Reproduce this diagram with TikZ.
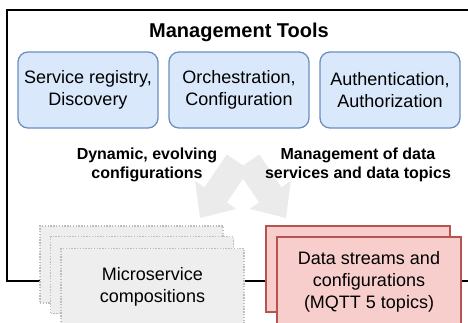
\documentclass[tikz,border=0pt]{standalone}
\usepackage{fontspec}
\setmainfont{Liberation Sans}
\usetikzlibrary{calc, arrows.meta}

\definecolor{ToolFill}{HTML}{DAE8FC}
\definecolor{ToolLine}{HTML}{6C8EBF}
\definecolor{TopicFill}{HTML}{F8CECC}
\definecolor{TopicLine}{HTML}{B85450}
\definecolor{ServiceFill}{HTML}{EEEEEE}
\definecolor{ServiceLine}{HTML}{BDBDBD}
\definecolor{FlowFill}{HTML}{EBEBEB}

\tikzset{
    tool box/.style={
        draw=ToolLine, fill=ToolFill, line width=1.3pt, rounded corners=10pt,
        minimum width=140pt, minimum height=76pt, align=center,
        font=\fontsize{18}{22}\selectfont
    },
    service box/.style={
        draw=ServiceLine, fill=ServiceFill, line width=1.3pt,
        dash pattern=on 1.4pt off 1.4pt,
        minimum width=183pt, minimum height=77pt, align=center,
        font=\fontsize{18}{22}\selectfont
    },
    topic box/.style={
        draw=TopicLine, fill=TopicFill, line width=1.3pt,
        minimum width=184pt, minimum height=86pt, align=center,
        font=\fontsize{18}{22}\selectfont
    },
    flow label/.style={align=center, font=\fontsize{16}{19}\selectfont\bfseries},
    flow arrow/.style={
        draw=FlowFill, line width=27pt,
        -{Triangle[width=50pt, length=28pt, line width=0pt]}
    }
}

\begin{document}
\begin{tikzpicture}[x=1pt, y=-1pt]

    \useasboundingbox (0,0) rectangle (468,322);
    \clip (0,0) rectangle (468,322);

    % Marco de las herramientas
    \draw[line width=1.6pt] (468,10) -- (7,10) -- (7,281) -- (468,281);

    \node[font=\fontsize{20}{24}\selectfont\bfseries] (title) at (239,32) {Management Tools};

    \node[tool box] (registry) at (88,90) {Service registry,\\Discovery};
    \node[tool box] (orchestration) at (239,90) {Orchestration,\\Configuration};
    \node[tool box] (auth) at (390,90) {Authentication,\\Authorization};

    % Flechas cruzadas
    \coordinate (cfgTail) at (238,162);
    \coordinate (cfgTip) at (200,218);
    \coordinate (topicTail) at (248,162);
    \coordinate (topicTip) at (286,218);

    \draw[flow arrow] (cfgTail) -- (cfgTip);
    \draw[flow arrow] (topicTail) -- (topicTip);

    \node[flow label] (cfgLabel) at (147,164.5) {Dynamic, evolving\\configurations};
    \node[flow label] (topicLabel) at (358,164.5) {Management of data\\services and data topics};

    % Pilas de microservicios y de topics
    \node[service box] (msBack) at (131.5,264.5) {};
    \node[service box] (msMid) at (142,275) {};
    \node[service box] (msFront) at (152.5,287) {Microservice\\compositions};

    \node[topic box] (topicBack) at (358,269) {};
    \node[topic box, minimum height=90pt] (topicFront) at (369,282) {Data streams and\\configurations\\(MQTT 5 topics)};

\end{tikzpicture}
\end{document}
